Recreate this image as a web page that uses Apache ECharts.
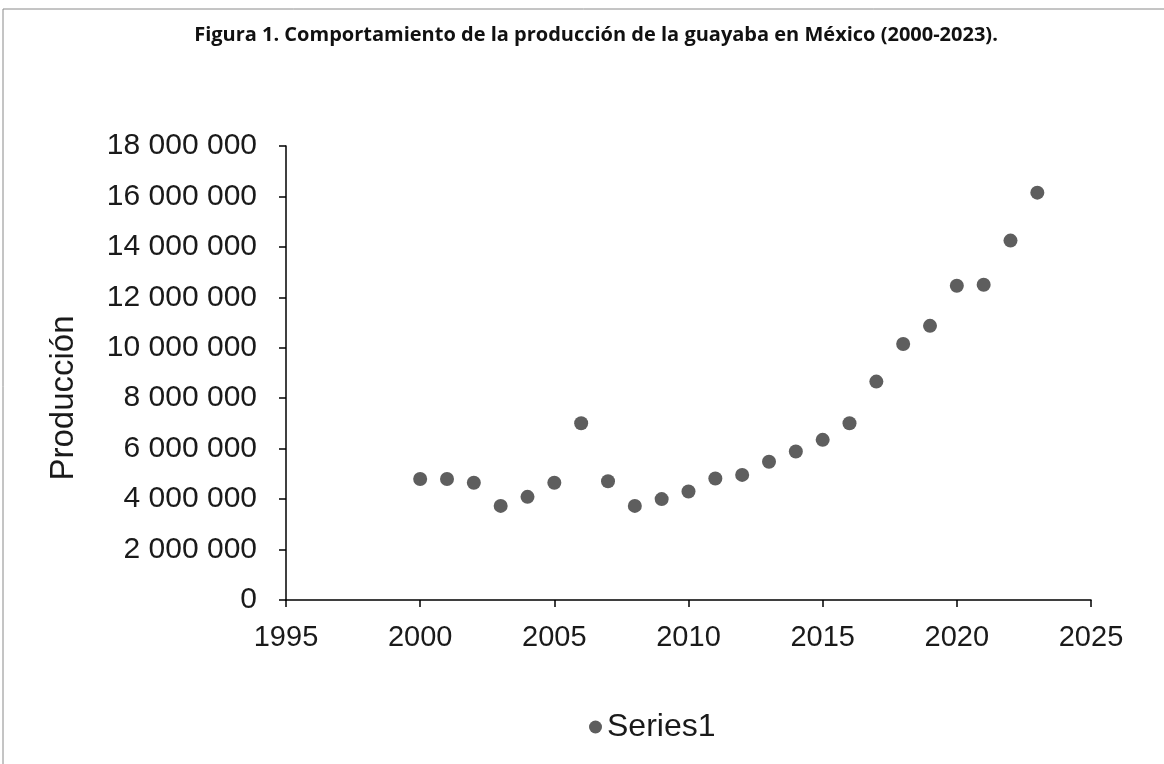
<!DOCTYPE html>
<html>
<head>
<meta charset="utf-8">
<script src="https://cdn.jsdelivr.net/npm/echarts@6/dist/echarts.min.js"></script>
<style>
  html, body { margin: 0; padding: 0; background: #fff; }
  #chart { width: 1164px; height: 764px; }
</style>
</head>
<body>
<div id="chart"></div>
<script>
// years and production
const years = [2000, 2001, 2002, 2003, 2004, 2005, 2006, 2007, 2008, 2009, 2010, 2011,
               2012, 2013, 2014, 2015, 2016, 2017, 2018, 2019, 2020, 2021, 2022, 2023];
const produccion = [4800000, 4800000, 4650000, 3730000, 4090000, 4650000, 7010000, 4710000,
                    3730000, 4000000, 4300000, 4820000, 4960000, 5480000, 5890000, 6350000,
                    7010000, 8660000, 10150000, 10870000, 12460000, 12500000, 14250000, 16150000];
const xTicks = [1995, 2025, 5];      // min, max, step
const yTicks = [0, 18000000, 2000000];

const points = years.map((y, i) => [y, produccion[i]]);

// "18 000 000" style
function spaced(v) {
  return String(v).replace(/\B(?=(\d{3})+(?!\d))/g, ' ');
}

const chart = echarts.init(document.getElementById('chart'));
chart.setOption({
  backgroundColor: '#fff',
  animation: false,
  title: {
    text: 'Figura 1. Comportamiento de la producción de la guayaba en México (2000-2023).',
    left: 591, top: 20, textAlign: 'center',
    textStyle: { fontFamily: 'Open Sans', fontWeight: 'bold', fontSize: 20, color: '#111' }
  },
  graphic: [
    { type: 'line', shape: { x1: 3, y1: 9, x2: 1164, y2: 9 }, style: { stroke: '#8a8a8a', lineWidth: 1 } },
    { type: 'line', shape: { x1: 3, y1: 9, x2: 3, y2: 764 }, style: { stroke: '#8a8a8a', lineWidth: 1 } },
    // y axis title, sits a bit below the middle of the axis in the original
    {
      type: 'text', x: 64, y: 398, rotation: Math.PI / 2,
      style: {
        text: 'Producción', align: 'center', verticalAlign: 'middle',
        fontFamily: 'Liberation Sans', fontSize: 33, fill: '#1a1a1a'
      }
    }
  ],
  grid: { left: 286, right: 73, top: 146, bottom: 164 },
  legend: {
    data: ['Series1'],
    left: 584, top: 706,
    icon: 'circle', itemWidth: 13, itemHeight: 13, itemGap: 5,
    textStyle: { fontFamily: 'Liberation Sans', fontSize: 32, color: '#1a1a1a' }
  },
  xAxis: {
    type: 'value',
    min: xTicks[0], max: xTicks[1], interval: xTicks[2],
    axisLine: { show: true, lineStyle: { color: '#000', width: 1.5 } },
    axisTick: { show: true, inside: false, length: 7, lineStyle: { color: '#000', width: 1.5 } },
    axisLabel: {
      margin: 23, fontFamily: 'Liberation Sans', fontSize: 29, color: '#1a1a1a',
      formatter: v => String(v)
    },
    splitLine: { show: false }
  },
  yAxis: {
    type: 'value',
    min: yTicks[0], max: yTicks[1], interval: yTicks[2],
    axisLine: { show: true, lineStyle: { color: '#000', width: 1.5 } },
    axisTick: { show: true, inside: false, length: 7, lineStyle: { color: '#000', width: 1.5 } },
    axisLabel: {
      margin: 29, fontFamily: 'Liberation Sans', fontSize: 30, color: '#1a1a1a',
      formatter: spaced
    },
    splitLine: { show: false }
  },
  series: [{
    name: 'Series1',
    type: 'scatter',
    data: points,
    symbol: 'circle',
    symbolSize: 14,
    itemStyle: { color: '#5e5e5e', opacity: 1 }
  }]
});
</script>
</body>
</html>
